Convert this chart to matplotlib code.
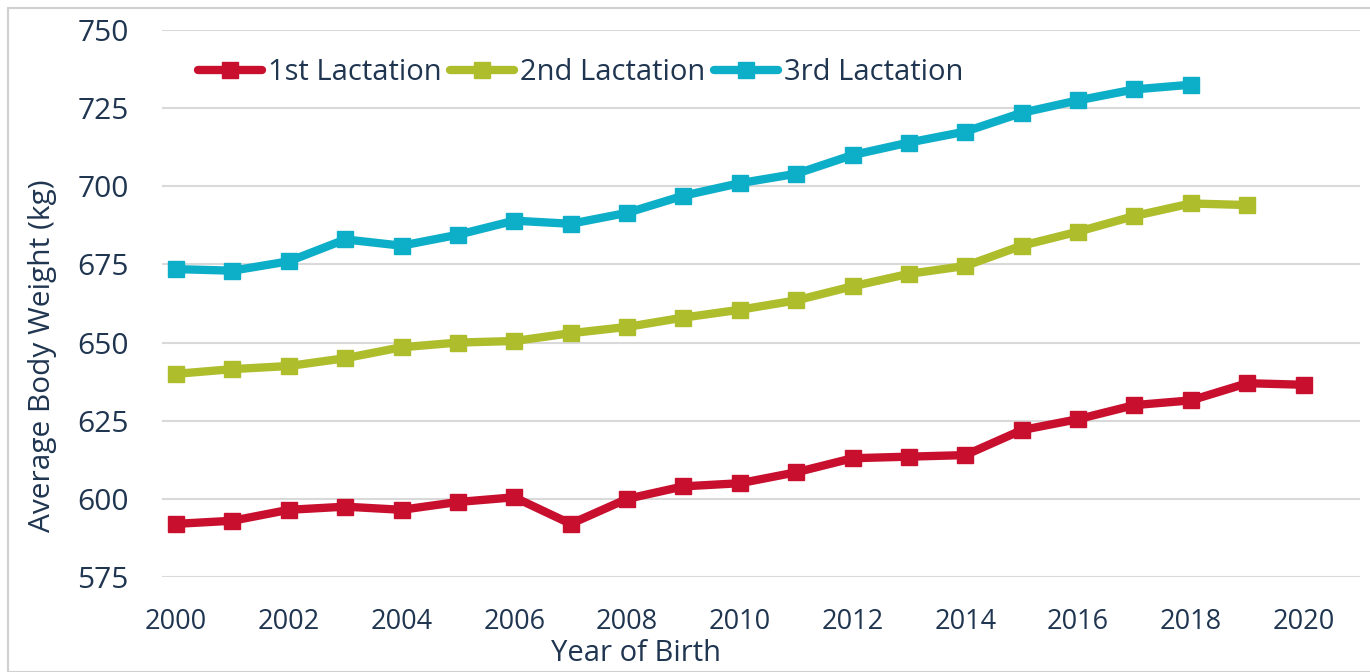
import matplotlib.pyplot as plt
from matplotlib.patches import Rectangle

# podaci procitani sa slike
godine = list(range(2000, 2021))
prva = [592, 593, 596.5, 597.5, 596.5, 599, 600.5, 592, 600, 604, 605,
        608.5, 613, 613.5, 614, 622, 625.5, 630, 631.5, 637, 636.5]
druga = [640, 641.5, 642.5, 645, 648.5, 650, 650.5, 653, 655, 658, 660.5,
         663.5, 668, 672, 674.5, 681, 685.5, 690.5, 694.5, 694]
treca = [673.5, 673, 676, 683, 681, 684.5, 689, 688, 691.5, 697, 701,
         704, 710, 714, 717.5, 723.5, 727.5, 731, 732.5]
nazivi = ['1st Lactation', '2nd Lactation', '3rd Lactation']
boje = ['#C8102E', '#AEBD2C', '#0CAEC8']
tekst = '#1F3550'

plt.rcParams['font.family'] = ['Open Sans', 'DejaVu Sans']

fig = plt.figure(figsize=(13.7, 6.72), dpi=100)
ax = fig.add_axes([162 / 1370, 1 - 577 / 672, (1360 - 162) / 1370, (577 - 30) / 672])

serije = [prva, druga, treca]
for vrednosti, naziv, boja in zip(serije, nazivi, boje):
    ax.plot(godine[:len(vrednosti)], vrednosti, color=boja, lw=6, marker='s',
            markersize=11, label=naziv, solid_capstyle='round')

ax.set_ylim(575, 750)
ax.set_xlim(1999.75, 2021.0)
ax.set_yticks(range(575, 751, 25))
ax.set_xticks(range(2000, 2021, 2))
ax.grid(axis='y', color='#D9D9D9', lw=1.5)
ax.set_axisbelow(True)
for s in ax.spines.values():
    s.set_visible(False)
ax.tick_params(length=0, colors=tekst)
ax.tick_params(axis='y', pad=24, labelsize=21.5)
ax.tick_params(axis='x', pad=22, labelsize=19.5)

# oznake osa su u originalu pomerene od sredine
ax.set_ylabel('Average Body Weight (kg)', fontsize=21.5, color=tekst)
ax.yaxis.set_label_coords(-0.088, 0.404)
ax.set_xlabel('Year of Birth', fontsize=21, color=tekst)
ax.xaxis.set_label_coords(0.396, -0.114)

ax.legend(loc='upper left', bbox_to_anchor=(0.02, 0.97), ncol=3, frameon=False,
          fontsize=21, handlelength=2.2, handletextpad=0.2, columnspacing=0.3,
          labelcolor=tekst, borderaxespad=0)

fig.patches.append(Rectangle((8 / 1370, 0), 1, 1 - 8 / 672, transform=fig.transFigure,
                             fill=False, edgecolor='#D0D0D0', lw=1.5))

fig.savefig('out.png', dpi=100)
